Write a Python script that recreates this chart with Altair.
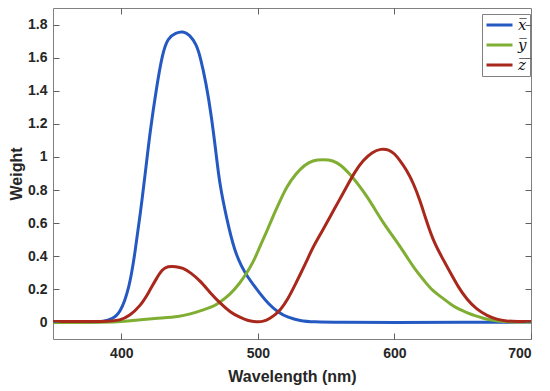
import altair as alt
import pandas as pd

series_names = ["x\u0305", "y\u0305", "z\u0305"]
series_colors = ["#2559c2", "#7fae32", "#a8281c"]

blue_wl = [350, 370, 380, 387, 393, 399, 406, 410, 414, 418, 421, 426, 430, 434, 440, 445, 450, 455, 458, 462, 466, 470, 472, 477, 483, 488, 492, 501, 508, 515, 522, 531, 540, 560, 600, 650, 700]
blue_v = [0, 0, 0.002, 0.006, 0.02, 0.05, 0.21, 0.42, 0.66, 0.93, 1.15, 1.43, 1.62, 1.72, 1.75, 1.76, 1.74, 1.68, 1.6, 1.45, 1.25, 0.98, 0.84, 0.63, 0.43, 0.34, 0.28, 0.18, 0.11, 0.06, 0.03, 0.01, 0.003, 0.0, 0.0, 0.002, 0.002]

green_wl = [350, 390, 400, 426, 443, 450, 460, 467, 471, 480, 487, 492, 497, 501, 506, 511, 516, 521, 528, 534, 540, 548, 555, 561, 567, 574, 580, 586, 592, 598, 604, 610, 616, 622, 628, 635, 641, 647, 653, 659, 665, 672, 680, 690, 700]
green_v = [0, 0, 0.005, 0.025, 0.035, 0.05, 0.075, 0.095, 0.115, 0.17, 0.24, 0.3, 0.37, 0.45, 0.54, 0.64, 0.73, 0.82, 0.9, 0.95, 0.98, 0.985, 0.98, 0.95, 0.9, 0.83, 0.76, 0.68, 0.6, 0.53, 0.46, 0.385, 0.31, 0.25, 0.19, 0.15, 0.11, 0.08, 0.06, 0.04, 0.025, 0.012, 0.005, 0.002, 0.002]

red_wl = [350, 390, 399, 406, 414, 420, 426, 430, 434, 440, 445, 451, 458, 465, 472, 480, 487, 493, 499, 504, 509, 513, 516, 522, 528, 531, 536, 540, 547, 553, 559, 565, 571, 577, 584, 590, 596, 600, 604, 609, 614, 619, 622, 628, 635, 641, 647, 653, 660, 668, 675, 682, 690, 700]
red_v = [0.005, 0.005, 0.012, 0.04, 0.1, 0.18, 0.27, 0.32, 0.34, 0.338, 0.33, 0.3, 0.25, 0.18, 0.12, 0.06, 0.03, 0.01, 0.003, 0.005, 0.025, 0.05, 0.07, 0.14, 0.24, 0.29, 0.375, 0.45, 0.55, 0.64, 0.73, 0.82, 0.91, 0.98, 1.03, 1.05, 1.045, 1.02, 0.98, 0.92, 0.84, 0.73, 0.65, 0.5, 0.39, 0.3, 0.21, 0.14, 0.08, 0.04, 0.018, 0.008, 0.005, 0.005]

x_ticks = [400, 500, 600, 700]
y_ticks = [0, 0.2, 0.4, 0.6, 0.8, 1, 1.2, 1.4, 1.6, 1.8]
x_domain = [350, 700]
y_domain = [-0.1, 1.9]

rows = []
for name, wls, vs in zip(series_names, [blue_wl, green_wl, red_wl], [blue_v, green_v, red_v]):
    for w, v in zip(wls, vs):
        rows.append({"wl": w, "v": v, "series": name})
df = pd.DataFrame(rows)

FONT = "Liberation Sans"
TICK = "#606060"

xscale = alt.Scale(domain=x_domain, nice=False, zero=False)
yscale = alt.Scale(domain=y_domain, nice=False, zero=False)

# main axes moved 6px inside the frame so that their ticks point inward (MATLAB box style)
xaxis = alt.Axis(orient="bottom", values=x_ticks, ticks=True, tickSize=6, tickColor=TICK,
                 tickWidth=1, offset=-6, domain=False, grid=False, labelOverlap=False,
                 title="Wavelength (nm)", labelPadding=7, titlePadding=8, zindex=1)
yaxis = alt.Axis(orient="left", values=y_ticks, format="~g", ticks=True, tickSize=6,
                 tickColor=TICK, tickWidth=1, offset=-6, domain=False, grid=False,
                 labelOverlap=False, title="Weight", labelPadding=6, titlePadding=3, zindex=1)
# mirror axes on top / right: ticks only
xaxis2 = alt.Axis(orient="top", values=x_ticks[:-1], ticks=True, tickSize=6, tickColor=TICK,
                  tickWidth=1, offset=-6, domain=False, grid=False, labels=False, title=None,
                  zindex=1)
yaxis2 = alt.Axis(orient="right", values=y_ticks, ticks=True, tickSize=6, tickColor=TICK,
                  tickWidth=1, offset=-6, domain=False, grid=False, labels=False, title=None,
                  zindex=1)

lines = alt.Chart(df).mark_line(strokeWidth=3, interpolate="basis").encode(
    x=alt.X("wl:Q", scale=xscale, axis=xaxis),
    y=alt.Y("v:Q", scale=yscale, axis=yaxis),
    color=alt.Color("series:N",
                    scale=alt.Scale(domain=series_names, range=series_colors),
                    legend=alt.Legend(orient="none", legendX=429, legendY=6, title=None,
                                      symbolType="M-1,0H3", symbolStrokeWidth=3, symbolSize=169,
                                      strokeColor="#808080", fillColor="white", padding=3,
                                      rowPadding=4, labelFont="DejaVu Serif",
                                      labelFontSize=15, labelFontStyle="italic",
                                      labelColor="#111111", labelOffset=17)),
)

mirror = alt.Chart(df).mark_line(opacity=0).encode(
    x=alt.X("wl:Q", scale=xscale, axis=xaxis2),
    y=alt.Y("v:Q", scale=yscale, axis=yaxis2),
)

chart = alt.layer(lines, mirror).resolve_axis(x="independent", y="independent").properties(
    width=478, height=331,
    autosize=alt.AutoSizeParams(type="none"),
    padding={"left": 45, "top": 0, "right": 5, "bottom": 50},
    background="white",
).configure_view(stroke="#808080", strokeWidth=1).configure_axis(
    labelFont=FONT, labelFontSize=14, labelFontWeight="bold", labelColor="#262626",
    titleFont=FONT, titleFontSize=16, titleFontWeight="bold", titleColor="#262626",
    labelOverlap=False,
)

chart.save("out.html", embed_options={"renderer": "svg", "actions": False})
